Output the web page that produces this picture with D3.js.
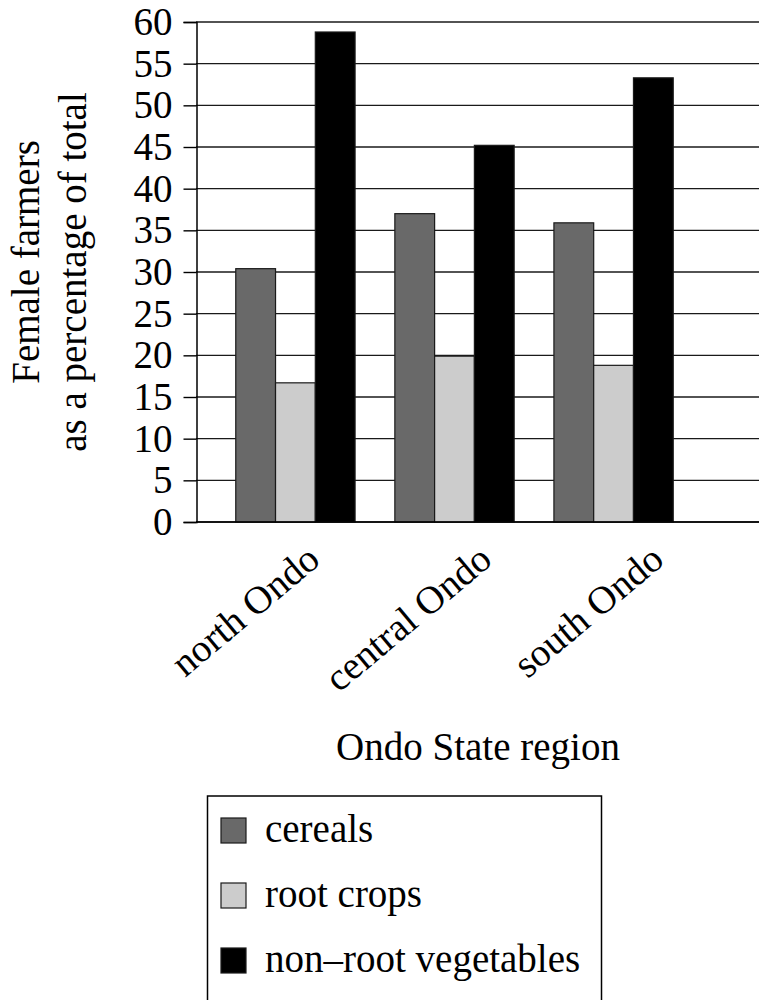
<!DOCTYPE html>
<html>
<head>
<meta charset="utf-8">
<script src="https://cdn.jsdelivr.net/npm/d3@7"></script>
<style>
  body { margin: 0; background: #fff; }
  text { font-family: "Liberation Serif", "Times New Roman", serif; fill: #000; }
</style>
</head>
<body>
<svg width="759" height="1000"></svg>
<script>
// data
const regions = ["north Ondo", "central Ondo", "south Ondo"];
const crops = ["cereals", "root crops", "non\u2013root vegetables"];
const cereals = [30.4, 37.0, 35.9];
const rootCrops = [16.7, 19.9, 18.8];
const nonRootVeg = [58.8, 45.2, 53.3];
const yTicks = [0, 5, 10, 15, 20, 25, 30, 35, 40, 45, 50, 55, 60];
const colors = ["#696969", "#cccccc", "#000000"];

const series = [cereals, rootCrops, nonRootVeg];
const table = regions.map((r, i) => ({
  region: r,
  values: crops.map((c, j) => ({ crop: c, value: series[j][i] }))
}));

const svg = d3.select("svg");
const fontSize = 39;

// scales
const yScale = d3.scaleLinear().domain([0, 60]).range([522, 22]);
const x0 = d3.scaleBand().domain(regions).range([196, 713]).paddingInner(0.25).paddingOuter(0.25);
const x1 = d3.scaleBand().domain(crops).range([0, x0.bandwidth()]);
// rotated labels sit a little right of the groups
const xLabel = d3.scalePoint().domain(regions).range([322, 666]);

// gridlines
svg.append("g")
  .selectAll("line")
  .data(yTicks)
  .enter()
  .append("line")
  .attr("x1", 196)
  .attr("x2", 759)
  .attr("y1", d => yScale(d))
  .attr("y2", d => yScale(d))
  .attr("stroke", "#1a1a1a")
  .attr("stroke-width", 1.4);

// y axis
const yAxis = svg.append("g")
  .attr("transform", "translate(196.5,0)")
  .call(d3.axisLeft(yScale).tickValues(yTicks).tickSize(13).tickPadding(11));
yAxis.select(".domain").attr("stroke", "#000").attr("stroke-width", 1.5);
yAxis.selectAll(".tick line").attr("stroke", "#000").attr("stroke-width", 1.4);
yAxis.selectAll(".tick text")
  .style("font-family", "'Liberation Serif', 'Times New Roman', serif")
  .style("font-size", fontSize + "px")
  .attr("fill", "#000");

// bars
svg.append("g")
  .selectAll("g")
  .data(table)
  .enter()
  .append("g")
  .attr("transform", d => "translate(" + x0(d.region) + ",0)")
  .selectAll("rect")
  .data(d => d.values)
  .enter()
  .append("rect")
  .attr("x", d => x1(d.crop))
  .attr("width", x1.bandwidth())
  .attr("y", d => yScale(d.value))
  .attr("height", d => yScale(0) - yScale(d.value))
  .attr("fill", (d, i) => colors[i])
  .attr("stroke", "#1a1a1a")
  .attr("stroke-width", 1.2);

// x axis line
svg.append("line")
  .attr("x1", 196).attr("x2", 759)
  .attr("y1", yScale(0)).attr("y2", yScale(0))
  .attr("stroke", "#000").attr("stroke-width", 1.5);

// rotated category labels
svg.append("g")
  .selectAll("text")
  .data(regions)
  .enter()
  .append("text")
  .attr("transform", d => "translate(" + xLabel(d) + ",563)rotate(-40)")
  .attr("text-anchor", "end")
  .style("font-size", fontSize + "px")
  .text(d => d);

// axis titles
svg.append("text")
  .attr("x", 478)
  .attr("y", 760)
  .attr("text-anchor", "middle")
  .style("font-size", fontSize + "px")
  .text("Ondo State region");

svg.append("text")
  .attr("text-anchor", "middle")
  .attr("transform", "translate(39,262)rotate(-90)")
  .style("font-size", fontSize + "px")
  .text("Female farmers");

svg.append("text")
  .attr("text-anchor", "middle")
  .attr("transform", "translate(86,272)rotate(-90)")
  .style("font-size", fontSize + "px")
  .text("as a percentage of total");

// legend
const legend = svg.append("g");
legend.append("rect")
  .attr("x", 207.5).attr("y", 796)
  .attr("width", 394).attr("height", 230)
  .attr("fill", "none")
  .attr("stroke", "#000")
  .attr("stroke-width", 1.5);

const item = legend.selectAll(".item")
  .data(crops)
  .enter()
  .append("g")
  .attr("class", "item")
  .attr("transform", (d, i) => "translate(221," + (818 + i * 65) + ")");

item.append("rect")
  .attr("width", 25)
  .attr("height", 25)
  .attr("fill", (d, i) => colors[i])
  .attr("stroke", "#1a1a1a")
  .attr("stroke-width", 1.2);

item.append("text")
  .attr("x", 44)
  .attr("y", 24)
  .style("font-size", fontSize + "px")
  .text(d => d);
</script>
</body>
</html>
